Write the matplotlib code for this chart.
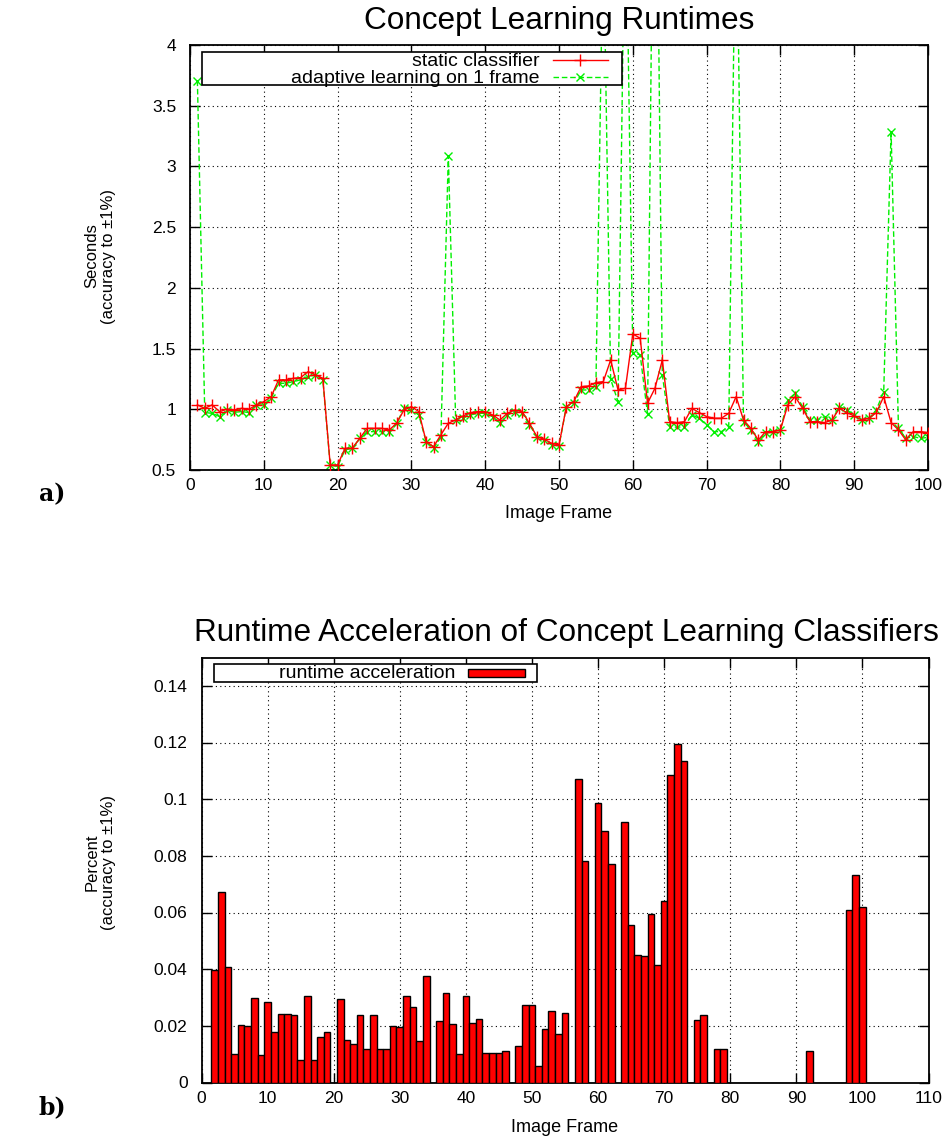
import numpy as np
import matplotlib
matplotlib.use("Agg")
import matplotlib.pyplot as plt
from matplotlib.patches import Rectangle
from matplotlib.lines import Line2D

plt.rcParams['font.family'] = ['Liberation Sans', 'DejaVu Sans']

# ---- data: concept learning runtimes (seconds) per image frame ----
frames = list(range(1, 101))
static_classifier = [
    1.036, 1.008, 1.036, 0.981, 1.000, 0.995, 1.008, 1.000, 1.036, 1.063,
    1.104, 1.242, 1.242, 1.255, 1.261, 1.310, 1.283, 1.255, 0.541, 0.541,
    0.679, 0.679, 0.761, 0.843, 0.843, 0.843, 0.830, 0.885, 0.995, 1.022,
    0.981, 0.734, 0.692, 0.790, 0.885, 0.912, 0.945, 0.973, 0.981, 0.981,
    0.953, 0.912, 0.967, 0.995, 0.981, 0.885, 0.775, 0.753, 0.720, 0.706,
    1.022, 1.063, 1.187, 1.192, 1.220, 1.228, 1.406, 1.159, 1.173, 1.620,
    1.585, 1.050, 1.173, 1.406, 0.898, 0.890, 0.898, 1.008, 0.973, 0.940,
    0.926, 0.926, 0.967, 1.104, 0.912, 0.843, 0.747, 0.816, 0.816, 0.830,
    1.036, 1.104, 1.008, 0.898, 0.898, 0.890, 0.912, 1.008, 0.973, 0.945,
    0.912, 0.926, 0.973, 1.104, 0.890, 0.830, 0.747, 0.816, 0.816, 0.808,
]
adaptive_1_frame = [
    3.707, 0.973, 0.967, 0.940, 0.995, 0.975, 0.981, 0.973, 1.036, 1.036,
    1.096, 1.214, 1.214, 1.228, 1.242, 1.269, 1.283, 1.242, 0.541, 0.528,
    0.665, 0.679, 0.761, 0.816, 0.816, 0.816, 0.816, 0.885, 1.008, 0.995,
    0.953, 0.734, 0.679, 0.775, 3.087, 0.912, 0.930, 0.953, 0.967, 0.967,
    0.940, 0.885, 0.953, 0.981, 0.973, 0.871, 0.775, 0.747, 0.706, 0.698,
    1.022, 1.050, 1.159, 1.159, 1.187, 5.000, 1.247, 1.063, 5.500, 1.467,
    1.448, 0.962, 7.000, 1.283, 0.857, 0.852, 0.857, 0.953, 0.926, 0.871,
    0.816, 0.816, 0.857, 5.500, 0.898, 0.830, 0.734, 0.802, 0.816, 0.830,
    1.077, 1.132, 1.022, 0.912, 0.912, 0.940, 0.912, 1.022, 0.995, 0.953,
    0.912, 0.926, 0.995, 1.146, 3.287, 0.843, 0.761, 0.775, 0.761, 0.769,
]

# ---- data: runtime acceleration (percent) per image frame ----
acceleration = [
    0.0, 0.0397, 0.0672, 0.0406, 0.0100, 0.0202, 0.0198, 0.0300, 0.0097, 0.0283,
    0.0180, 0.0242, 0.0242, 0.0238, 0.0080, 0.0305, 0.0080, 0.0160, 0.0180, 0.0,
    0.0295, 0.0150, 0.0135, 0.0238, 0.0120, 0.0238, 0.0120, 0.0118, 0.0200, 0.0197,
    0.0306, 0.0267, 0.0146, 0.0375, 0.0, 0.0218, 0.0315, 0.0206, 0.0100, 0.0306,
    0.0209, 0.0223, 0.0104, 0.0104, 0.0104, 0.0110, 0.0, 0.0130, 0.0273, 0.0273,
    0.0060, 0.0189, 0.0252, 0.0170, 0.0246, 0.0, 0.1071, 0.0782, 0.0, 0.0987,
    0.0886, 0.0770, 0.0, 0.0921, 0.0556, 0.0450, 0.0446, 0.0593, 0.0413, 0.0639,
    0.1087, 0.1196, 0.1133, 0.0, 0.0220, 0.0238, 0.0, 0.0120, 0.0120, 0.0,
    0.0, 0.0, 0.0, 0.0, 0.0, 0.0, 0.0, 0.0, 0.0, 0.0,
    0.0, 0.0110, 0.0, 0.0, 0.0, 0.0, 0.0, 0.0610, 0.0731, 0.0618,
]

top_xticks = list(range(0, 101, 10))
top_yticks = [0.5, 1, 1.5, 2, 2.5, 3, 3.5, 4]
top_yticklabels = ["0.5", "1", "1.5", "2", "2.5", "3", "3.5", "4"]
bot_xticks = list(range(0, 111, 10))
bot_yticks = [0, 0.02, 0.04, 0.06, 0.08, 0.1, 0.12, 0.14]
bot_yticklabels = ["0", "0.02", "0.04", "0.06", "0.08", "0.1", "0.12", "0.14"]

W, H = 950, 1142
fig = plt.figure(figsize=(W / 100, H / 100), dpi=100)

RED = "#ff0000"
GREEN = "#00f000"
TICK_FS = 12.5
LABEL_FS = 13
YLAB_FS = 12
LEG_FS = 14
TITLE_FS = 22.7


def style_axes(ax):
    ax.tick_params(direction="in", length=7, width=1, top=True, right=True,
                   labelsize=TICK_FS)
    ax.tick_params(axis="y", pad=10)
    ax.tick_params(axis="x", pad=6)
    ax.grid(True, linestyle=(0, (1, 3)), color="black", linewidth=0.8)
    for s in ax.spines.values():
        s.set_linewidth(1.3)


# ---- panel a ----
ax1 = fig.add_axes([190 / W, 1 - 470 / H, 738 / W, 425 / H])
ax1.plot(frames, static_classifier, color=RED, lw=1.0, marker="+", ms=8,
         mew=1.0, zorder=3)
ax1.plot(frames, adaptive_1_frame, color=GREEN, lw=1.0, ls=(0, (4, 2)),
         marker="x", ms=6, mew=1.0, zorder=2)
ax1.set_xlim(0, 100)
ax1.set_ylim(0.5, 4)
ax1.set_xticks(top_xticks)
ax1.set_yticks(top_yticks)
ax1.set_yticklabels(top_yticklabels)
style_axes(ax1)
fig.text(559 / W, 1 - 21 / H, "Concept Learning Runtimes", fontsize=TITLE_FS,
         ha="center", va="center")
fig.text(559 / W, 1 - 513 / H, "Image Frame", fontsize=LABEL_FS,
         ha="center", va="center")
fig.text(100 / W, 1 - 256 / H, "Seconds\n(accuracy to \u00b11%)",
         fontsize=YLAB_FS, ha="center", va="center", rotation=90,
         linespacing=1.1, multialignment="center")

# key box
ax1.add_patch(Rectangle((0.0167, 0.906), 0.568, 0.078, transform=ax1.transAxes,
                        fill=True, facecolor="white", edgecolor="black",
                        lw=1.2, zorder=5))
ax1.text(0.474, 0.962, "static classifier", transform=ax1.transAxes,
         ha="right", va="center", fontsize=LEG_FS, zorder=6)
ax1.text(0.474, 0.922, "adaptive learning on 1 frame", transform=ax1.transAxes,
         ha="right", va="center", fontsize=LEG_FS, zorder=6)
ax1.add_line(Line2D([0.492, 0.566], [0.965, 0.965], transform=ax1.transAxes,
                    color=RED, lw=1.0, zorder=6))
ax1.add_line(Line2D([0.529], [0.965], transform=ax1.transAxes, color=RED,
                    marker="+", ms=8, mew=1.0, zorder=6))
ax1.add_line(Line2D([0.492, 0.566], [0.925, 0.925], transform=ax1.transAxes,
                    color=GREEN, lw=1.0, ls=(0, (4, 2)), zorder=6))
ax1.add_line(Line2D([0.529], [0.925], transform=ax1.transAxes, color=GREEN,
                    marker="x", ms=6, mew=1.0, zorder=6))

# ---- panel b ----
ax2 = fig.add_axes([201.5 / W, 1 - 1082.5 / H, 727 / W, 425 / H])
ax2.bar(frames, acceleration, width=1.0, color=RED, edgecolor="black",
        linewidth=1.0, zorder=3)
ax2.set_xlim(0, 110)
ax2.set_ylim(0, 0.15)
ax2.set_xticks(bot_xticks)
ax2.set_yticks(bot_yticks)
ax2.set_yticklabels(bot_yticklabels)
style_axes(ax2)
fig.text(566 / W, 1 - 633 / H,
         "Runtime Acceleration of Concept Learning Classifiers",
         fontsize=TITLE_FS, ha="center", va="center")
fig.text(565 / W, 1 - 1127 / H, "Image Frame", fontsize=LABEL_FS,
         ha="center", va="center")
fig.text(100 / W, 1 - 862 / H, "Percent\n(accuracy to \u00b11%)",
         fontsize=YLAB_FS, ha="center", va="center", rotation=90,
         linespacing=1.1, multialignment="center")

ax2.add_patch(Rectangle((0.0172, 0.943), 0.4438, 0.0417, transform=ax2.transAxes,
                        facecolor="white", edgecolor="black", lw=1.2, zorder=5))
ax2.text(0.3487, 0.962, "runtime acceleration", transform=ax2.transAxes,
         ha="right", va="center", fontsize=LEG_FS, zorder=6)
ax2.add_patch(Rectangle((0.3671, 0.9535), 0.0779, 0.0198, transform=ax2.transAxes,
                        facecolor=RED, edgecolor="black", lw=1.0, zorder=6))

# panel letters
fig.text(52 / W, 1 - 494 / H, "a)", fontsize=17, fontweight="bold",
         family="DejaVu Serif", ha="center", va="center")
fig.text(52 / W, 1 - 1107 / H, "b)", fontsize=17, fontweight="bold",
         family="DejaVu Serif", ha="center", va="center")

fig.savefig("out.png", dpi=100)
